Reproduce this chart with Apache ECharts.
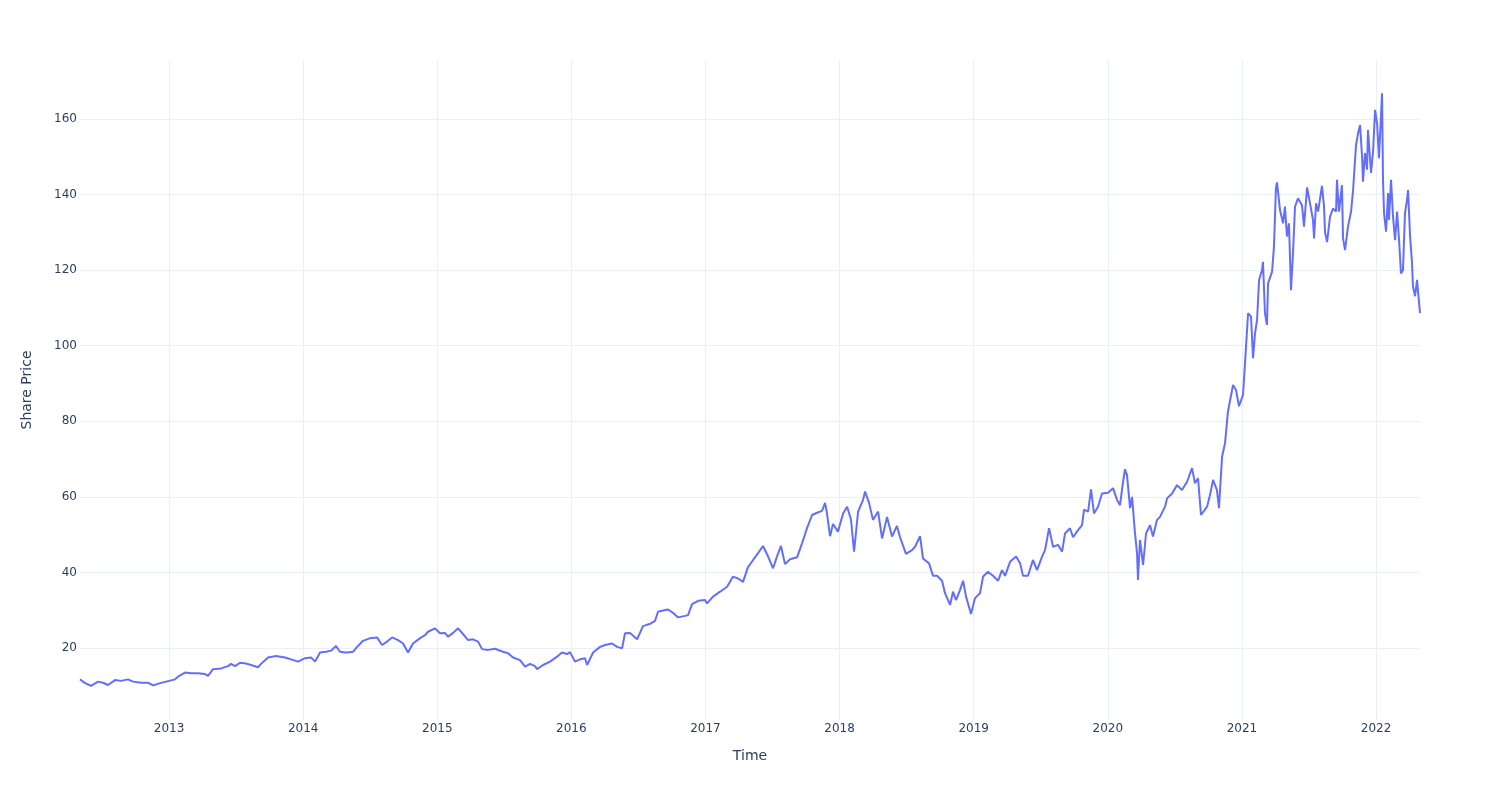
<!DOCTYPE html>
<html><head><meta charset="utf-8">
<script src="https://cdn.jsdelivr.net/npm/echarts@6/dist/echarts.min.js"></script>
<style>html,body{margin:0;padding:0;background:#fff}#c{width:1500px;height:800px}</style>
</head><body><div id="c"></div>
<script>
// Time in decimal years, price values
const timeA = [2012.336, 2012.374, 2012.418, 2012.471, 2012.508, 2012.545, 2012.597, 2012.642, 2012.694, 2012.732, 2012.791, 2012.843, 2012.881, 2012.933, 2012.978, 2013.045, 2013.067, 2013.119, 2013.164, 2013.216, 2013.268, 2013.291, 2013.328, 2013.388, 2013.440, 2013.462, 2013.492, 2013.529, 2013.574, 2013.611, 2013.664, 2013.686, 2013.738, 2013.798, 2013.865, 2013.910, 2013.962, 2014.014, 2014.059, 2014.089, 2014.126, 2014.171, 2014.208, 2014.245, 2014.275, 2014.312];
const priceA = [11.7, 10.7, 10.0, 11.1, 10.8, 10.2, 11.5, 11.3, 11.7, 11.1, 10.8, 10.8, 10.1, 10.7, 11.1, 11.7, 12.4, 13.5, 13.3, 13.3, 13.1, 12.6, 14.4, 14.6, 15.2, 15.8, 15.2, 16.1, 15.9, 15.5, 14.9, 15.8, 17.5, 17.9, 17.5, 17.0, 16.4, 17.3, 17.5, 16.4, 18.8, 19.0, 19.3, 20.5, 19.0, 18.8];

const timeB = [2014.327, 2014.372, 2014.402, 2014.447, 2014.499, 2014.551, 2014.588, 2014.626, 2014.663, 2014.708, 2014.745, 2014.782, 2014.819, 2014.872, 2014.909, 2014.931, 2014.983, 2015.021, 2015.058, 2015.080, 2015.118, 2015.155, 2015.192, 2015.230, 2015.267, 2015.304, 2015.334, 2015.379, 2015.431, 2015.490, 2015.528, 2015.565, 2015.617, 2015.655, 2015.692, 2015.729, 2015.744, 2015.789, 2015.841, 2015.893, 2015.930, 2015.968, 2015.990, 2016.027, 2016.065, 2016.102, 2016.117, 2016.162, 2016.214, 2016.251, 2016.303, 2016.341];
const priceB = [18.8, 19.0, 20.3, 21.9, 22.6, 22.8, 20.8, 21.7, 22.8, 22.1, 21.2, 18.8, 21.2, 22.6, 23.4, 24.3, 25.2, 23.9, 24.0, 23.0, 24.0, 25.2, 23.7, 22.1, 22.3, 21.7, 19.7, 19.5, 19.8, 19.0, 18.6, 17.5, 16.8, 15.1, 15.8, 15.2, 14.4, 15.5, 16.4, 17.7, 18.8, 18.4, 18.9, 16.4, 17.0, 17.3, 15.5, 18.8, 20.3, 20.8, 21.2, 20.3];

const timeC = [2016.378, 2016.400, 2016.437, 2016.490, 2016.534, 2016.587, 2016.624, 2016.646, 2016.684, 2016.721, 2016.758, 2016.795, 2016.848, 2016.870, 2016.900, 2016.945, 2016.997, 2017.012, 2017.056, 2017.109, 2017.161, 2017.206, 2017.243, 2017.280, 2017.317, 2017.355, 2017.392, 2017.429, 2017.467, 2017.504, 2017.534, 2017.563, 2017.593, 2017.631, 2017.683, 2017.720, 2017.757, 2017.795, 2017.832, 2017.869, 2017.892, 2017.906, 2017.929, 2017.951, 2017.988, 2018.026, 2018.056, 2018.085, 2018.108, 2018.138, 2018.175, 2018.190, 2018.220, 2018.249, 2018.287, 2018.317, 2018.354];
const priceC = [19.9, 23.9, 24.0, 22.3, 25.8, 26.4, 27.2, 29.6, 29.9, 30.2, 29.3, 28.1, 28.5, 28.7, 31.6, 32.5, 32.7, 31.8, 33.6, 34.9, 36.2, 38.9, 38.4, 37.5, 41.4, 43.3, 45.1, 47.0, 44.2, 41.1, 44.3, 47.0, 42.2, 43.5, 44.0, 47.7, 51.7, 55.2, 55.8, 56.3, 58.4, 55.6, 49.6, 52.8, 50.8, 55.6, 57.4, 54.0, 45.5, 56.1, 59.2, 61.4, 58.4, 53.9, 56.1, 49.0, 54.7];

const timeD = [2018.391, 2018.428, 2018.451, 2018.495, 2018.540, 2018.563, 2018.600, 2018.622, 2018.667, 2018.697, 2018.727, 2018.764, 2018.786, 2018.824, 2018.846, 2018.868, 2018.898, 2018.921, 2018.943, 2018.980, 2019.010, 2019.047, 2019.070, 2019.107, 2019.144, 2019.182, 2019.211, 2019.234, 2019.271, 2019.316, 2019.346, 2019.368, 2019.405, 2019.442, 2019.472, 2019.510, 2019.532, 2019.562, 2019.592, 2019.629, 2019.659, 2019.681, 2019.718, 2019.741, 2019.778, 2019.808, 2019.823, 2019.853, 2019.875, 2019.897, 2019.927, 2019.957, 2020.002, 2020.039, 2020.069, 2020.091, 2020.114, 2020.128, 2020.143, 2020.166, 2020.181, 2020.203, 2020.218, 2020.225, 2020.240, 2020.263, 2020.285, 2020.315, 2020.337, 2020.367, 2020.389];
const priceD = [49.5, 52.3, 49.3, 44.9, 45.9, 46.8, 49.6, 43.7, 42.4, 39.1, 39.1, 37.8, 34.5, 31.4, 34.9, 32.7, 35.3, 37.8, 33.6, 29.0, 33.2, 34.5, 38.9, 40.2, 39.1, 37.8, 40.6, 39.1, 42.8, 44.2, 42.4, 39.1, 39.1, 43.3, 40.6, 44.2, 45.9, 51.7, 46.8, 47.3, 45.5, 50.3, 51.7, 49.3, 51.2, 52.5, 56.6, 56.1, 62.0, 55.6, 57.4, 60.9, 61.1, 62.3, 59.2, 57.8, 64.0, 67.3, 65.8, 57.0, 60.0, 50.3, 45.1, 38.0, 48.6, 42.0, 50.3, 52.5, 49.5, 53.9, 54.7];

const timeE = [2020.427, 2020.442, 2020.479, 2020.516, 2020.553, 2020.591, 2020.628, 2020.650, 2020.673, 2020.695, 2020.740, 2020.762, 2020.785, 2020.814, 2020.829, 2020.852, 2020.874, 2020.896, 2020.934, 2020.956, 2020.978, 2021.008, 2021.023, 2021.046, 2021.068, 2021.083, 2021.098, 2021.113, 2021.128, 2021.150, 2021.157, 2021.172, 2021.187, 2021.195, 2021.225, 2021.239, 2021.254, 2021.262, 2021.284, 2021.307, 2021.321, 2021.336, 2021.351, 2021.366, 2021.381, 2021.396, 2021.418, 2021.448, 2021.463, 2021.486, 2021.508, 2021.530, 2021.538, 2021.553, 2021.568, 2021.597, 2021.612, 2021.620, 2021.635, 2021.657, 2021.679, 2021.702, 2021.709, 2021.724, 2021.746, 2021.754, 2021.769, 2021.791, 2021.814, 2021.829, 2021.851, 2021.866, 2021.881, 2021.896, 2021.903, 2021.918, 2021.933, 2021.940, 2021.963, 2021.978, 2021.993, 2022.008, 2022.022, 2022.045, 2022.052, 2022.060, 2022.075, 2022.090, 2022.097, 2022.112, 2022.127, 2022.142, 2022.157, 2022.172, 2022.186, 2022.201, 2022.216, 2022.231, 2022.239, 2022.254, 2022.268, 2022.276, 2022.291, 2022.306, 2022.313, 2022.328];
const priceE = [57.4, 59.6, 60.9, 63.1, 61.8, 64.0, 67.6, 63.6, 64.9, 55.2, 57.4, 60.5, 64.5, 61.8, 57.0, 70.6, 74.2, 82.6, 89.6, 88.3, 84.0, 86.9, 95.3, 108.6, 107.7, 96.7, 103.3, 106.8, 117.4, 120.0, 122.2, 108.6, 105.5, 116.5, 119.6, 126.2, 141.9, 143.2, 135.9, 132.4, 136.8, 128.9, 132.4, 114.7, 124.4, 136.8, 139.0, 137.2, 131.5, 141.9, 137.7, 133.3, 128.4, 137.7, 135.5, 142.3, 137.0, 130.0, 127.4, 134.1, 136.3, 135.5, 143.9, 135.5, 142.5, 128.4, 125.3, 131.5, 135.5, 141.2, 153.1, 156.2, 158.4, 150.0, 143.4, 151.0, 146.6, 157.1, 145.7, 151.4, 162.4, 158.8, 149.6, 166.8, 143.9, 135.0, 130.2, 140.4, 133.3, 143.9, 134.1, 127.9, 135.5, 127.9, 119.1, 120.0, 135.0, 138.6, 141.2, 128.9, 122.2, 115.6, 113.1, 117.4, 114.5, 108.6];

const xTicks = [2013, 2014, 2015, 2016, 2017, 2018, 2019, 2020, 2021, 2022];
const yTicks = [20, 40, 60, 80, 100, 120, 140, 160];
const yRange = [0.945, 175.61];

const times = [].concat(timeA, timeB, timeC, timeD, timeE);
const prices = [].concat(priceA, priceB, priceC, priceD, priceE);
const seriesData = times.map((t, i) => [t, prices[i]]);

const fontColor = '#2a3f5f';
const gridColor = '#EBF0F8';
const chart = echarts.init(document.getElementById('c'), null, {renderer: 'canvas'});
chart.setOption({
  animation: false,
  backgroundColor: '#ffffff',
  textStyle: {fontFamily: 'DejaVu Sans'},
  grid: {left: 80, right: 80, top: 60, bottom: 80, containLabel: false, outerBoundsMode: 'none'},
  xAxis: {
    type: 'value',
    min: times[0],
    max: times[times.length - 1],
    name: 'Time',
    nameLocation: 'middle',
    nameGap: 29,
    nameTextStyle: {color: fontColor, fontSize: 14, fontFamily: 'DejaVu Sans'},
    axisLine: {show: false},
    axisTick: {show: false, customValues: xTicks},
    axisLabel: {customValues: xTicks, formatter: v => String(v), color: fontColor, fontSize: 12, margin: 3, fontFamily: 'DejaVu Sans'},
    splitLine: {show: true, lineStyle: {color: gridColor, width: 1}}
  },
  yAxis: {
    type: 'value',
    min: yRange[0],
    max: yRange[1],
    name: 'Share Price',
    nameLocation: 'middle',
    nameGap: 46,
    nameTextStyle: {color: fontColor, fontSize: 14, fontFamily: 'DejaVu Sans'},
    axisLine: {show: false},
    axisTick: {show: false, customValues: yTicks},
    axisLabel: {customValues: yTicks, formatter: v => String(v), color: fontColor, fontSize: 12, margin: 3, fontFamily: 'DejaVu Sans'},
    splitLine: {show: true, lineStyle: {color: gridColor, width: 1}}
  },
  series: [{
    type: 'line',
    data: seriesData,
    showSymbol: false,
    symbol: 'none',
    lineStyle: {color: '#636efa', width: 2},
    itemStyle: {color: '#636efa'}
  }]
});
</script>
</body></html>
